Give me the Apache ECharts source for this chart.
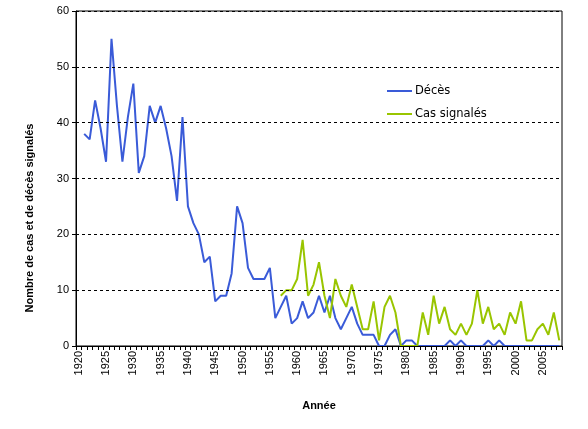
<!DOCTYPE html>
<html>
<head>
<meta charset="utf-8">
<script src="https://cdn.jsdelivr.net/npm/echarts@6/dist/echarts.min.js"></script>
<style>
html,body{margin:0;padding:0;background:#fff;}
#c{width:588px;height:429px;}
</style>
</head>
<body>
<div id="c"></div>
<script>
// Years 1920..2008
const years = [];
for (let y = 1920; y <= 2008; y++) years.push(String(y));

// Décès (deaths), 1920..2008
const deces = [
  null, 38, 37, 44, 39, 33, 55, 43, 33, 41,   // 1920-1929
  47, 31, 34, 43, 40, 43, 39, 34, 26, 41,     // 1930-1939
  25, 22, 20, 15, 16, 8, 9, 9, 13, 25,        // 1940-1949
  22, 14, 12, 12, 12, 14, 5, 7, 9, 4,         // 1950-1959
  5, 8, 5, 6, 9, 6, 9, 5, 3, 5,               // 1960-1969
  7, 4, 2, 2, 2, 0, 0, 2, 3, 0,               // 1970-1979
  1, 1, 0, 0, 0, 0, 0, 0, 1, 0,               // 1980-1989
  1, 0, 0, 0, 0, 1, 0, 1, 0, 0,               // 1990-1999
  0, 0, 0, 0, 0, 0, 0, 0, 0                   // 2000-2008
];

// Cas signalés (reported cases), 1920..2008
const cas = [
  null, null, null, null, null, null, null, null, null, null, // 1920-1929
  null, null, null, null, null, null, null, null, null, null, // 1930-1939
  null, null, null, null, null, null, null, null, null, null, // 1940-1949
  null, null, null, null, null, null, null, 9, 10, 10,        // 1950-1959
  12, 19, 9, 11, 15, 9, 5, 12, 9, 7,                          // 1960-1969
  11, 7, 3, 3, 8, 1, 7, 9, 6, 0,                              // 1970-1979
  0, 0, 0, 6, 2, 9, 4, 7, 3, 2,                               // 1980-1989
  4, 2, 4, 10, 4, 7, 3, 4, 2, 6,                              // 1990-1999
  4, 8, 1, 1, 3, 4, 2, 6, 1                                   // 2000-2008
];

const yTicks = { min: 0, max: 60, interval: 10 };
const seriesNames = ['Décès', 'Cas signalés'];
const yTitle = 'Nombre de cas et de décès signalés';
const xTitle = 'Année';

const font = 'Liberation Sans, Arial, sans-serif';
const chart = echarts.init(document.getElementById('c'), null, {renderer: 'canvas'});
chart.setOption({
  animation: false,
  backgroundColor: '#fff',
  grid: {
    left: 76, right: 26, top: 11, bottom: 83,
    show: true, borderColor: '#000', borderWidth: 1, backgroundColor: 'transparent'
  },
  legend: {
    orient: 'vertical',
    left: 382, top: 80,
    itemGap: 11,
    itemWidth: 25, itemHeight: 2,
    icon: 'rect',
    textStyle: { fontFamily: 'DejaVu Sans, sans-serif', fontSize: 11.5, color: '#000', padding: [0, 0, 0, -2] },
    data: seriesNames
  },
  xAxis: {
    type: 'category',
    data: years,
    boundaryGap: true,
    z: 5,
    name: xTitle,
    nameLocation: 'middle',
    nameGap: 54,
    nameTextStyle: { fontFamily: font, fontSize: 11, fontWeight: 'bold', color: '#000' },
    axisLine: { lineStyle: { color: '#000', width: 1 } },
    axisTick: { show: true, interval: 0, length: 4, alignWithLabel: false, lineStyle: { color: '#000' } },
    axisLabel: { interval: 4, rotate: 90, fontFamily: font, fontSize: 11, color: '#000', margin: 5 },
    splitLine: { show: false }
  },
  yAxis: {
    type: 'value',
    min: yTicks.min, max: yTicks.max, interval: yTicks.interval,
    z: 5,
    axisLine: { show: true, lineStyle: { color: '#000', width: 1 } },
    axisTick: { show: true, length: 4, lineStyle: { color: '#000' } },
    axisLabel: { fontFamily: font, fontSize: 11, color: '#000', margin: 7 },
    splitLine: { show: true, lineStyle: { color: '#000', type: [3, 3], width: 1 } }
  },
  graphic: [{
    type: 'text',
    x: 30, y: 218,
    rotation: Math.PI / 2,
    style: {
      text: yTitle,
      fontFamily: font, fontSize: 11, fontWeight: 'bold', fill: '#000',
      align: 'center', verticalAlign: 'middle'
    }
  }],
  series: [
    {
      name: seriesNames[0], type: 'line', data: deces,
      symbol: 'none', connectNulls: false,
      lineStyle: { color: '#3A5BD8', width: 2 },
      itemStyle: { color: '#3A5BD8' }
    },
    {
      name: seriesNames[1], type: 'line', data: cas,
      symbol: 'none', connectNulls: false,
      lineStyle: { color: '#99C500', width: 2 },
      itemStyle: { color: '#99C500' }
    }
  ]
});
</script>
</body>
</html>
